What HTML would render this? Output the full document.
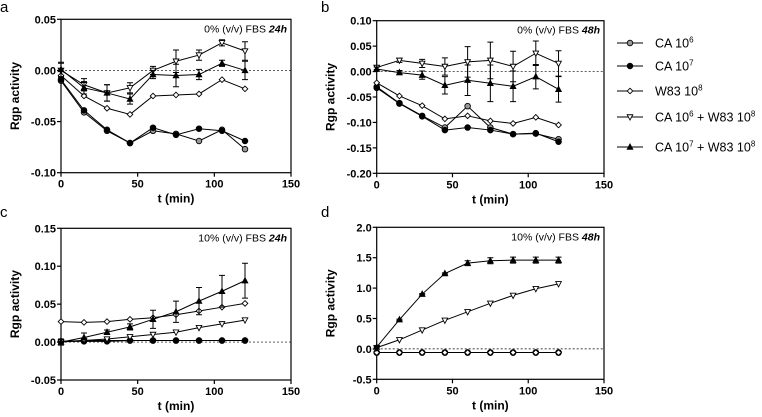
<!DOCTYPE html>
<html><head><meta charset="utf-8"><style>
html,body{margin:0;padding:0;background:#fff;width:762px;height:417px;overflow:hidden}
svg{display:block;font-family:"Liberation Sans",Arial,sans-serif}
</style></head><body>
<svg id="fig" width="762" height="417" viewBox="0 0 762 417">
<text x="0" y="12" font-size="15">a</text>
<text x="321" y="12" font-size="15">b</text>
<text x="0" y="217" font-size="15">c</text>
<text x="321" y="217" font-size="15">d</text>
<g id="legend"></g>
</svg>
<script>
const times=[0,15,30,45,60,75,90,105,120];
const seriesNames=["CA 10^6","CA 10^7","W83 10^8","CA 10^6 + W83 10^8","CA 10^7 + W83 10^8"];
// panel a
const aCA6=[-0.010,-0.041,-0.059,-0.071,-0.059,-0.062,-0.069,-0.058,-0.077];
const aCA7=[-0.009,-0.039,-0.058,-0.071,-0.056,-0.063,-0.057,-0.059,-0.069];
const aW83=[-0.005,-0.025,-0.037,-0.043,-0.025,-0.024,-0.023,-0.009,-0.018];
const aCA6W=[0.000,-0.014,-0.022,-0.017,0.000,0.009,0.015,0.027,0.019];
const aCA7W=[0.001,-0.017,-0.022,-0.028,-0.004,-0.005,-0.004,0.007,0.000];
const aErr=[0.007,0.006,0.008,0.005,0.004,0.011,0.005,0.003,0.009];
// panel b
const bCA6=[-0.030,-0.062,-0.087,-0.110,-0.068,-0.110,-0.123,-0.122,-0.133];
const bCA7=[-0.032,-0.063,-0.088,-0.115,-0.110,-0.115,-0.123,-0.121,-0.138];
const bW83=[-0.022,-0.048,-0.067,-0.093,-0.087,-0.097,-0.102,-0.090,-0.105];
const bCA6W=[0.008,0.022,0.016,0.010,0.019,0.022,0.010,0.036,0.016];
const bCA7W=[0.005,-0.002,-0.007,-0.027,-0.017,-0.023,-0.029,-0.010,-0.035];
const bErr=[0.004,0.004,0.008,0.017,0.030,0.036,0.030,0.024,0.025];
// panel c
const cCA6=[0.001,0.001,0.001,0.002,0.002,0.002,0.002,0.002,0.002];
const cCA7=[0.001,0.002,0.002,0.002,0.002,0.002,0.002,0.002,0.002];
const cW83=[0.027,0.026,0.027,0.030,0.032,0.036,0.041,0.046,0.051];
const cCA6W=[0.000,0.002,0.004,0.007,0.010,0.013,0.019,0.024,0.029];
const cCA7W=[0.000,0.006,0.013,0.020,0.030,0.040,0.054,0.067,0.081];
const cErr=[0.004,0.006,0.003,0.004,0.012,0.014,0.018,0.021,0.023];
// panel d
const dCA6=[-0.06,-0.06,-0.06,-0.06,-0.06,-0.06,-0.06,-0.06,-0.06];
const dCA7=[-0.06,-0.06,-0.06,-0.06,-0.06,-0.06,-0.06,-0.06,-0.06];
const dW83=[-0.06,-0.06,-0.06,-0.06,-0.06,-0.06,-0.06,-0.06,-0.06];
const dCA6W=[0.02,0.15,0.31,0.47,0.61,0.75,0.88,0.99,1.07];
const dCA7W=[0.03,0.48,0.90,1.24,1.41,1.45,1.46,1.46,1.46];
const dErr=[0.01,0.01,0.01,0.01,0.04,0.05,0.05,0.05,0.05];
const xTicks=[0,50,100,150];
const aTicks=["0.05","0.00","-0.05","-0.10"];
const bTicks=["0.10","0.05","0.00","-0.05","-0.10","-0.15","-0.20"];
const cTicks=["0.15","0.10","0.05","0.00","-0.05"];
const dTicks=["2.0","1.5","1.0","0.5","0.0","-0.5"];

const NS="http://www.w3.org/2000/svg";
const svg=document.getElementById('fig');
function mk(tag,attrs,parent){const e=document.createElementNS(NS,tag);for(const k in attrs)e.setAttribute(k,attrs[k]);(parent||svg).appendChild(e);return e;}

function marker(g,kind,x,y){
  const r=2.8;let e;
  if(kind===0){e=mk('circle',{cx:x,cy:y,r:r,fill:'#999',stroke:'#000','stroke-width':0.9},g);}
  else if(kind===1){e=mk('circle',{cx:x,cy:y,r:r,fill:'#000',stroke:'#000','stroke-width':0.9},g);}
  else if(kind===2){e=mk('path',{d:`M${x},${y-r}L${x+r},${y}L${x},${y+r}L${x-r},${y}Z`,fill:'#fff',stroke:'#000','stroke-width':0.9},g);}
  else if(kind===3){e=mk('path',{d:`M${x-r},${y-r*0.8}L${x+r},${y-r*0.8}L${x},${y+r*1.1}Z`,fill:'#fff',stroke:'#000','stroke-width':0.9},g);}
  else {e=mk('path',{d:`M${x-r},${y+r*0.8}L${x+r},${y+r*0.8}L${x},${y-r*1.1}Z`,fill:'#000',stroke:'#000','stroke-width':0.9},g);}
  return e;
}

function panel(id,box,ymax,ymin,ticks,series,err,errIdx,label,hr){
  const [x0,x1,yT,yB]=box;
  const sx=v=>x0+(v-0)/150*(x1-x0);
  const sy=v=>yT+(ymax-v)/(ymax-ymin)*(yB-yT);
  const g=mk('g',{});
  
  
  const fr=mk('rect',{x:x0,y:yT,width:x1-x0,height:yB-yT,fill:'none',stroke:'#000','stroke-width':1.2},g);
  
  
  const zl=mk('line',{x1:x0,x2:x1,y1:sy(0),y2:sy(0),stroke:'#000','stroke-width':0.7,'stroke-dasharray':'2,2'},g);
  
  
  xTicks.forEach(t=>{
    mk('line',{x1:sx(t),x2:sx(t),y1:yB,y2:yB+4,stroke:'#000','stroke-width':1.2},g);
    const tx=mk('text',{x:sx(t),y:yB+15,'font-size':11,'font-weight':'bold','text-anchor':'middle'},g);
    tx.textContent=t;
    
    
  });
  ticks.forEach(t=>{
    const v=parseFloat(t);
    mk('line',{x1:x0-4,x2:x0,y1:sy(v),y2:sy(v),stroke:'#000','stroke-width':1.2},g);
    const tx=mk('text',{x:x0-5,y:sy(v)+4,'font-size':11,'font-weight':'bold','text-anchor':'end'},g);
    tx.textContent=t;
    
    
  });
  const xt=mk('text',{x:(x0+x1)/2,y:yB+30,'font-size':12,'font-weight':'bold','text-anchor':'middle'},g);
  xt.textContent='t (min)';
  
  
  const yt=mk('text',{x:0,y:0,'font-size':12,'font-weight':'bold','text-anchor':'middle',transform:`translate(${x0-42},${(yT+yB)/2}) rotate(-90)`},g);
  yt.textContent='Rgp activity';
  
  
  const lt=mk('text',{x:x1-4,y:yT+13,'font-size':10.5,'text-anchor':'end'},g);
  lt.innerHTML=label+' <tspan font-weight="bold" font-style="italic">'+hr+'</tspan>';
  
  
  series.forEach((vals,k)=>{
    const sg=mk('g',{},g);
    
    
    if(errIdx.includes(k)){
      vals.forEach((v,i)=>{
        const e=err[i],x=sx(times[i]);
        mk('path',{d:`M${x},${sy(v+e)}V${sy(v-e)}M${x-3},${sy(v+e)}H${x+3}M${x-3},${sy(v-e)}H${x+3}`,stroke:'#000','stroke-width':1,fill:'none'},sg);
      });
    }
    const pl=mk('polyline',{points:vals.map((v,i)=>sx(times[i])+','+sy(v)).join(' '),fill:'none',stroke:'#000','stroke-width':1},sg);
    
    
    vals.forEach((v,i)=>{
      const m=marker(sg,k,sx(times[i]),sy(v));
      
      
    });
  });
}
panel('a',[61,291,19.3,172.7],0.05,-0.10,aTicks,[aCA6,aCA7,aW83,aCA6W,aCA7W],aErr,[3,4],'0% (v/v) FBS','24h');
panel('b',[376.7,604,20.7,173.3],0.10,-0.20,bTicks,[bCA6,bCA7,bW83,bCA6W,bCA7W],bErr,[3,4],'0% (v/v) FBS','48h');
panel('c',[61,291,228.3,380],0.15,-0.05,cTicks,[cCA6,cCA7,cW83,cCA6W,cCA7W],cErr,[4],'10% (v/v) FBS','24h');
panel('d',[376.7,604,227.3,379.3],2.0,-0.5,dTicks,[dCA6,dCA7,dW83,dCA6W,dCA7W],dErr,[4],'10% (v/v) FBS','48h');

const leg=document.getElementById('legend');
const legY=[43,66,91,117,147];
const legHTML=['CA 10<tspan dy="-5" font-size="8">6</tspan>','CA 10<tspan dy="-5" font-size="8">7</tspan>','W83 10<tspan dy="-5" font-size="8">8</tspan>',
 'CA 10<tspan dy="-5" font-size="8">6</tspan><tspan dy="5"> + W83 10</tspan><tspan dy="-5" font-size="8">8</tspan>',
 'CA 10<tspan dy="-5" font-size="8">7</tspan><tspan dy="5"> + W83 10</tspan><tspan dy="-5" font-size="8">8</tspan>'];
legY.forEach((y,k)=>{
  const g=mk('g',{},leg);
  
  
  mk('line',{x1:617,x2:643,y1:y,y2:y,stroke:'#000','stroke-width':1},g);
  marker(g,k,630,y);
  const t=mk('text',{x:655,y:y+4.5,'font-size':12.5},g);
  t.innerHTML=legHTML[k];
});
</script>
</body></html>
